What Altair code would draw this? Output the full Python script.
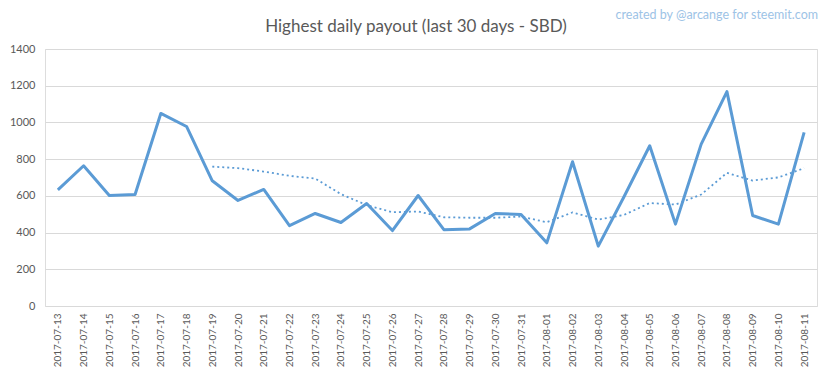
import altair as alt
import pandas as pd

dates = ["2017-07-13", "2017-07-14", "2017-07-15", "2017-07-16", "2017-07-17", "2017-07-18",
         "2017-07-19", "2017-07-20", "2017-07-21", "2017-07-22", "2017-07-23", "2017-07-24",
         "2017-07-25", "2017-07-26", "2017-07-27", "2017-07-28", "2017-07-29", "2017-07-30",
         "2017-07-31", "2017-08-01", "2017-08-02", "2017-08-03", "2017-08-04", "2017-08-05",
         "2017-08-06", "2017-08-07", "2017-08-08", "2017-08-09", "2017-08-10", "2017-08-11"]
payout = [633, 764, 602, 607, 1049, 978,
          682, 575, 635, 438, 504, 455,
          558, 411, 602, 416, 420, 504,
          498, 344, 786, 326, 595, 873,
          446, 882, 1168, 493, 446, 946]
y_ticks = [0, 200, 400, 600, 800, 1000, 1200, 1400]
title_text = "Highest daily payout (last 30 days - SBD)"
credit_text = "created by @arcange for steemit.com"

df = pd.DataFrame({"date": dates, "value": payout})

BLUE = "#5b9bd5"
GREY = "#595959"
FONT = "Lato"

x_enc = alt.X("date:O", sort=None,
              axis=alt.Axis(title=None, labelAngle=-90, labelFontSize=10, labelColor=GREY,
                            labelFont=FONT, ticks=False, domain=False, labelPadding=7,
                            grid=False))
y_axis = alt.Axis(title=None, values=y_ticks, format="d", labelOverlap=False,
                  labelFontSize=11, labelColor=GREY, labelFont=FONT, ticks=False,
                  domain=False, labelPadding=10, gridColor="#d9d9d9", gridWidth=1)
y_scale = alt.Scale(domain=[0, 1400], nice=False)

base = alt.Chart(df)

line = base.mark_line(color=BLUE, strokeWidth=3, strokeJoin="round").encode(
    x=x_enc, y=alt.Y("value:Q", scale=y_scale, axis=y_axis))

ma = base.transform_window(
    ma="mean(value)", rn="row_number()", frame=[-6, 0]
).transform_filter("datum.rn >= 7").mark_line(
    color=BLUE, strokeWidth=1.8, strokeDash=[2, 3]
).encode(x=x_enc, y=alt.Y("ma:Q", scale=y_scale, axis=y_axis))

title = alt.Chart(pd.DataFrame({"t": [title_text]})).mark_text(
    align="center", baseline="middle", fontSize=17, font=FONT, color=GREY
).encode(x=alt.value(371), y=alt.value(-22), text="t:N")

watermark = alt.Chart(pd.DataFrame({"t": [credit_text]})).mark_text(
    align="right", baseline="middle", fontSize=12.5, font=FONT, color="#9dc3e6"
).encode(x=alt.value(773), y=alt.value(-34), text="t:N")

chart = alt.layer(line, ma, title, watermark).properties(
    width=772, height=257,
    autosize=alt.AutoSizeParams(type="none"),
    padding={"left": 37, "top": 41, "right": 8, "bottom": 65},
).configure_view(stroke=None).configure(background="white")

chart.save("out.html", embed_options={"renderer": "svg", "actions": False})
